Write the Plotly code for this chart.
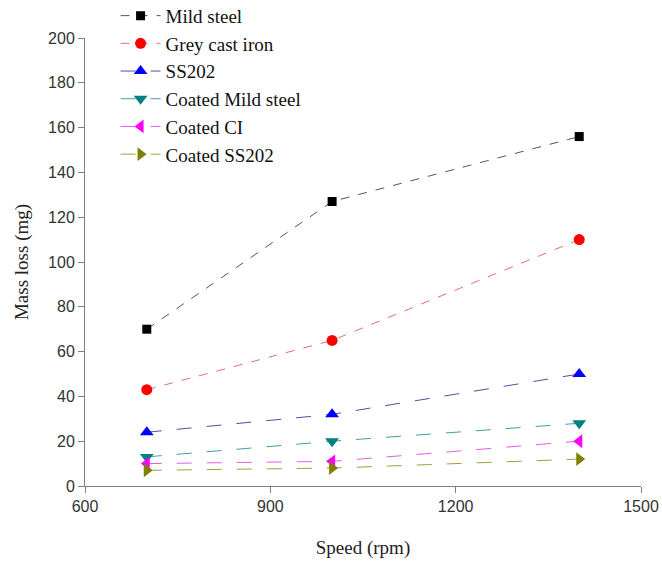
import plotly.graph_objects as go

speed = [700, 1000, 1400]
series_names = ["Mild steel", "Grey cast iron", "SS202", "Coated Mild steel", "Coated CI", "Coated SS202"]
mild_steel = [70, 127, 156]
grey_cast_iron = [43, 65, 110]
ss202 = [24, 32, 50]
coated_mild_steel = [13, 20, 28]
coated_ci = [10, 11, 20]
coated_ss202 = [7, 8, 12]

values = [mild_steel, grey_cast_iron, ss202, coated_mild_steel, coated_ci, coated_ss202]
marker_colors = ["#000000", "#ff0000", "#0000ff", "#008080", "#ff00ff", "#808000"]
line_colors = ["#555555", "#e07070", "#5050a0", "#40a0a0", "#e060e0", "#a0a040"]
symbols = ["square", "circle", "triangle-up", "triangle-down", "triangle-left", "triangle-right"]
sizes = [9, 11, 12, 12, 12, 12]
dashes = ["dash", "dash", "longdash", "longdash", "longdash", "longdash"]

fig = go.Figure()
for name, v, mc, lc, sym, sz, d in zip(series_names, values, marker_colors, line_colors, symbols, sizes, dashes):
    fig.add_trace(go.Scatter(
        x=speed, y=v, name=name, mode="lines+markers",
        line=dict(color=lc, width=1, dash=d),
        marker=dict(color=mc, symbol=sym, size=sz, line=dict(width=0)),
    ))

axis_common = dict(
    showline=True, linecolor="#808080", linewidth=1,
    ticks="outside", tickcolor="#808080", ticklen=6, tickwidth=1,
    showgrid=False, zeroline=False,
    tickfont=dict(family="Liberation Sans, Arial", size=16, color="#333333"),
)

title_font = dict(family="Liberation Serif, Times New Roman", size=19, color="#222222")

fig.update_layout(
    width=662, height=561,
    margin=dict(l=85, r=21, t=38, b=75, autoexpand=False),
    plot_bgcolor="white", paper_bgcolor="white",
    xaxis=dict(range=[600, 1500], tickvals=[600, 900, 1200, 1500],
               title=dict(text="Speed (rpm)", font=title_font, standoff=26),
               **axis_common),
    yaxis=dict(range=[0, 200], dtick=20,
               title=dict(text="Mass loss (mg)", font=title_font, standoff=14),
               **axis_common),
    legend=dict(x=0.055, y=1.092, xanchor="left", yanchor="top",
                bgcolor="rgba(0,0,0,0)", itemwidth=40,
                font=dict(family="Liberation Serif, Times New Roman", size=19, color="#111111"),
                tracegroupgap=0),
    showlegend=True,
)

fig.write_html("out.html")
